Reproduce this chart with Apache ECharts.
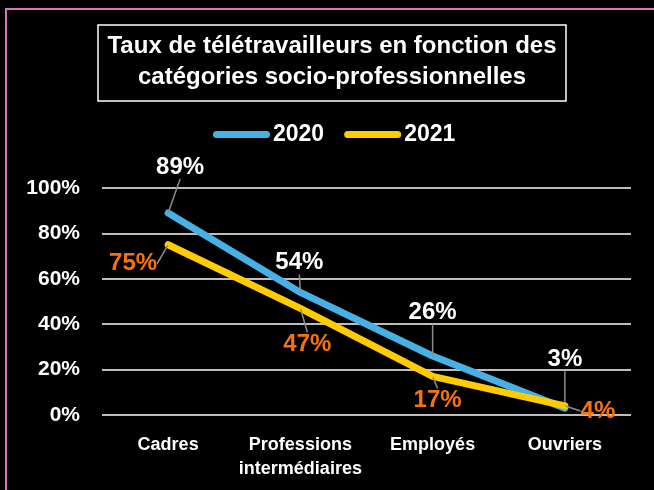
<!DOCTYPE html>
<html><head><meta charset="utf-8">
<script src="https://cdn.jsdelivr.net/npm/echarts@6/dist/echarts.min.js"></script>
<style>html,body{margin:0;padding:0;background:#000;}#c{width:654px;height:490px;}</style>
</head><body><div id="c"></div>
<script>
var categories = ['Cadres', 'Professions\nintermédiaires', 'Employés', 'Ouvriers'];
var values2020 = [89, 54, 26, 3];
var values2021 = [75, 47, 17, 4];
var yTicks = [0, 20, 40, 60, 80, 100];
var titleLines = ['Taux de télétravailleurs en fonction des', 'catégories socio-professionnelles'];

var FONT = '"Liberation Sans", Arial, sans-serif';
var off2020 = [[12,-46],[-1,-30],[0,-44],[0,-49]];
var off2021 = [[-35,19],[7,36],[5,24],[33,5]];

var chart = echarts.init(document.getElementById('c'));
chart.setOption({
  backgroundColor: '#000',
  animation: false,
  title: {
    text: titleLines.join('\n'),
    left: 322, top: 25, textAlign: 'center',
    borderColor: '#fff', borderWidth: 1.5,
    padding: [6, 10, 8, 10],
    textStyle: {color: '#fff', fontFamily: FONT, fontWeight: 'bold', fontSize: 24, lineHeight: 31}
  },
  legend: {
    top: 123, left: 213, padding: 0, itemGap: 20, itemWidth: 57, itemHeight: 7,
    icon: 'path://M3.5,0 H53.5 A3.5,3.5 0 0 1 53.5,7 H3.5 A3.5,3.5 0 0 1 3.5,0 Z',
    textStyle: {color: '#fff', fontFamily: FONT, fontWeight: 'bold', fontSize: 23, padding: [0,0,0,-2]},
    data: ['2020', '2021']
  },
  grid: {left: 102, right: 23, top: 188, bottom: 75, containLabel: false},
  xAxis: {
    type: 'category', data: categories, boundaryGap: true,
    axisLine: {show: false}, axisTick: {show: false},
    axisLabel: {color: '#fff', fontFamily: FONT, fontWeight: 'bold', fontSize: 18, lineHeight: 24, margin: 18, interval: 0}
  },
  yAxis: {
    type: 'value', min: yTicks[0], max: yTicks[yTicks.length-1], interval: yTicks[1]-yTicks[0],
    axisLine: {show: false}, axisTick: {show: false},
    axisLabel: {color: '#fff', fontFamily: FONT, fontWeight: 'bold', fontSize: 21, margin: 22, formatter: '{value}%'},
    splitLine: {lineStyle: {color: '#BDBDBD', width: 2}}
  },
  series: [
    {
      name: '2020', type: 'line', data: values2020, symbol: 'circle', symbolSize: 1, showSymbol: true, z: 3,
      lineStyle: {color: '#47B0E4', width: 7, cap: 'round', join: 'round'},
      itemStyle: {color: '#47B0E4'},
      label: {show: true, position: 'inside', formatter: '{c}%', color: '#fff', fontFamily: FONT, fontWeight: 'bold', fontSize: 24},
      labelLine: {show: true, lineStyle: {color: '#8C8C8C', width: 1.5}},
      labelLayout: function (p) { var o = off2020[p.dataIndex]; return {dx: o[0], dy: o[1]}; }
    },
    {
      name: '2021', type: 'line', data: values2021, symbol: 'circle', symbolSize: 1, showSymbol: true, z: 4,
      lineStyle: {color: '#FFCC00', width: 7, cap: 'round', join: 'round'},
      itemStyle: {color: '#FFCC00'},
      label: {show: true, position: 'inside', formatter: '{c}%', color: '#F7730A', fontFamily: FONT, fontWeight: 'bold', fontSize: 24},
      labelLine: {show: true, lineStyle: {color: '#8C8C8C', width: 1.5}},
      labelLayout: function (p) { var o = off2021[p.dataIndex]; return {dx: o[0], dy: o[1]}; }
    }
  ],
  graphic: [{
    type: 'rect', silent: true, z: 100,
    shape: {x: 6, y: 9, width: 700, height: 600},
    style: {fill: 'none', stroke: '#D978B8', lineWidth: 2}
  }]
});
</script></body></html>
